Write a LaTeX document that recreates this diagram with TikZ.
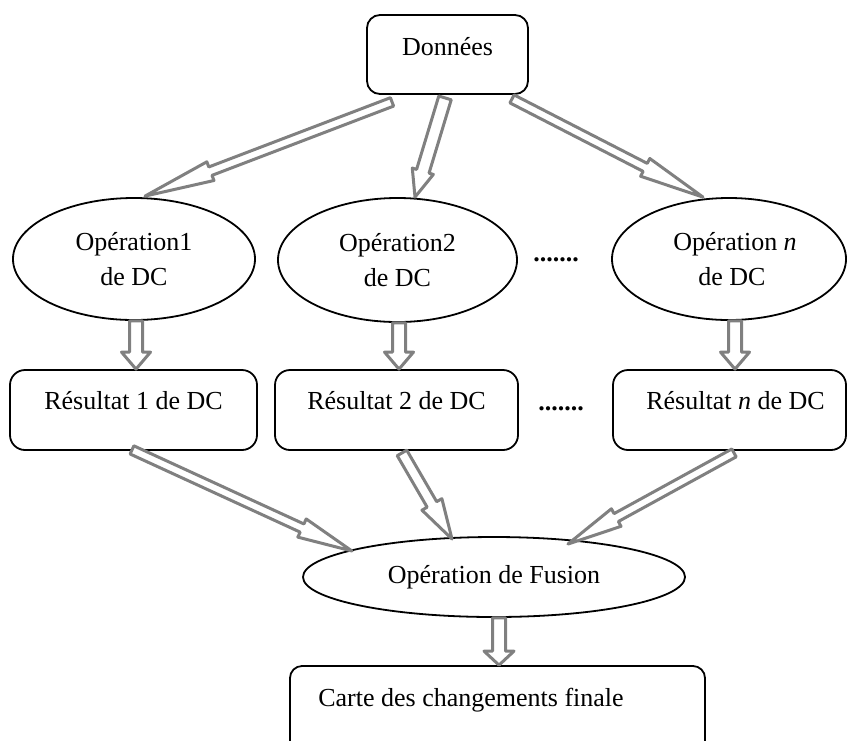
\documentclass[tikz,border=0pt]{standalone}
\usepackage{fontspec}
\setmainfont{Liberation Serif}
\usetikzlibrary{calc,shapes.geometric}
\definecolor{arrowgray}{RGB}{128,128,128}
\tikzset{
  every node/.style={font=\fontsize{26}{35}\selectfont},
  roundbox/.style={draw=black, line width=1.8pt, rounded corners=14pt, inner sep=0pt},
  opellipse/.style={draw=black, line width=1.8pt, ellipse, inner sep=0pt, align=center},
  dotrow/.style={font=\fontsize{26}{30}\selectfont\bfseries, inner sep=0pt, anchor=base},
  flow/.style={draw=arrowgray, line width=3pt, fill=white, line join=round},
  arrow dims/.code args={#1/#2/#3}{\def\fashaft{#1}\def\fahead{#2}\def\falen{#3}},
}
% hollow block arrow: #1 = shaft half-width/head half-width/head length, #2 = tail, #3 = tip
\newcommand\flowarrow[3]{%
  \begin{scope}[arrow dims=#1]
    \coordinate (fa-base) at ($(#3)!\falen pt!(#2)$);
    \draw[flow] ($(#2)!\fashaft pt!90:(#3)$)
      -- ($(fa-base)!\fashaft pt!90:(#3)$)
      -- ($(fa-base)!\fahead pt!90:(#3)$)
      -- (#3)
      -- ($(fa-base)!\fahead pt!-90:(#3)$)
      -- ($(fa-base)!\fashaft pt!-90:(#3)$)
      -- ($(#2)!\fashaft pt!-90:(#3)$)
      -- cycle;
  \end{scope}}
\begin{document}
\begin{tikzpicture}[x=1pt,y=-1pt]
  \clip (0,0) rectangle (848,740);
  \fill[white] (0,0) rectangle (848,740);

  % input data
  \node[roundbox, rounded corners=13pt, minimum width=161pt, text height=40pt, text depth=39pt] (don) at (447.5,54.5) {Données};

  % change detection operations
  \node[opellipse, minimum width=242pt, minimum height=122pt] (op1) at (134,259) {Opération1\\de DC};
  \node[opellipse, minimum width=239pt, minimum height=124pt] (op2) at (397.5,260) {Opération2\\de DC};
  \node[opellipse, minimum width=234pt, minimum height=122pt] (opn) at (729,259) {\hspace*{12pt}Opération \textit{n}\\\hspace*{6pt}de DC};
  \node[dotrow] (dots1) at (556,261) {.......};

  % change detection results
  \node[roundbox, rounded corners=15pt, minimum width=247pt, text height=39pt, text depth=41pt] (res1) at (133.5,410) {Résultat 1 de DC};
  \node[roundbox, rounded corners=15pt, minimum width=243pt, text height=39pt, text depth=41pt] (res2) at (396.5,410) {Résultat 2 de DC};
  \node[roundbox, rounded corners=15pt, minimum width=233pt, text height=39pt, text depth=41pt] (resn) at (729.5,410) {\hspace*{12pt}Résultat \textit{n} de DC};
  \node[dotrow] (dots2) at (561,410) {.......};

  % fusion and final map
  \node[opellipse, minimum width=382pt, minimum height=80pt] (fus) at (494,577) {Opération de Fusion};
  \node[roundbox, rounded corners=12pt, minimum width=415pt, text height=40pt, text depth=74pt] (fin) at (497.5,723) {Carte des changements finale\hspace*{53pt}};

  % arrow end points
  \coordinate (a1s) at ([shift={(-55.5,7)}]don.south);
  \coordinate (a1e) at ([shift={(11,-1)}]op1.north);
  \coordinate (a2s) at ([shift={(-2.5,3)}]don.south);
  \coordinate (a2e) at ([shift={(17.5,0)}]op2.north);
  \coordinate (a3s) at ([shift={(64.5,4)}]don.south);
  \coordinate (a3e) at ([shift={(-26,0)}]opn.north);
  \coordinate (a4s) at ([xshift=2pt]op1.south);
  \coordinate (a4e) at (a4s |- res1.north);
  \coordinate (a5s) at ([xshift=1.5pt]op2.south);
  \coordinate (a5e) at (a5s |- res2.north);
  \coordinate (a6s) at ([xshift=6pt]opn.south);
  \coordinate (a6e) at (a6s |- resn.north);
  \coordinate (a7s) at ([shift={(-1.5,-1)}]res1.south);
  \coordinate (a7e) at ([shift={(-142,-26)}]fus.center);
  \coordinate (a8s) at ([shift={(5.5,2)}]res2.south);
  \coordinate (a8e) at ([shift={(-42,-38)}]fus.center);
  \coordinate (a9s) at ([shift={(4.5,2)}]resn.south);
  \coordinate (a9e) at ([shift={(74,-33)}]fus.center);
  \coordinate (a10s) at ([xshift=5pt]fus.south);
  \coordinate (a10e) at (a10s |- fin.north);

  % flow arrows
  \flowarrow{4.5/10/70}{a1s}{a1e}
  \flowarrow{6.5/11/27}{a2s}{a2e}
  \flowarrow{4.5/10/65}{a3s}{a3e}
  \flowarrow{6.5/14.5/17}{a4s}{a4e}
  \flowarrow{6.5/14.5/17}{a5s}{a5e}
  \flowarrow{6.5/14.5/17}{a6s}{a6e}
  \flowarrow{4.5/10/55}{a7s}{a7e}
  \flowarrow{5.5/11.5/40}{a8s}{a8e}
  \flowarrow{4.5/10/55}{a9s}{a9e}
  \flowarrow{6.5/15/14}{a10s}{a10e}
\end{tikzpicture}
\end{document}
